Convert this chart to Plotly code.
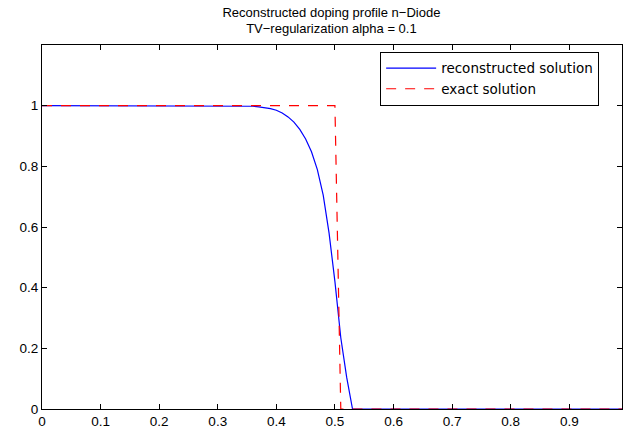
import plotly.graph_objects as go

# Reconstructed solution
x_rec = [0.0, 0.30, 0.34, 0.35, 0.36, 0.37, 0.38, 0.39, 0.40, 0.41, 0.42, 0.43, 0.44, 0.45,
         0.46, 0.47, 0.48, 0.49, 0.50, 0.51, 0.52, 0.53, 0.60, 0.70, 0.80, 0.90, 0.99]
y_rec = [1.0, 1.0, 1.0, 0.999, 0.998, 0.996, 0.994, 0.990, 0.985, 0.976, 0.963, 0.946, 0.922, 0.890,
         0.848, 0.789, 0.705, 0.580, 0.42, 0.235, 0.105, 0.0, 0.0, 0.0, 0.0, 0.0, 0.0]

# Exact solution (step)
x_exact = [0.0, 0.50, 0.51, 0.99]
y_exact = [1.0, 1.0, 0.0, 0.0]

x_ticks = [0, 0.1, 0.2, 0.3, 0.4, 0.5, 0.6, 0.7, 0.8, 0.9]
x_ticklabels = ["0", "0.1", "0.2", "0.3", "0.4", "0.5", "0.6", "0.7", "0.8", "0.9"]
y_ticks = [0, 0.2, 0.4, 0.6, 0.8, 1]
y_ticklabels = ["0", "0.2", "0.4", "0.6", "0.8", "1"]

FONT = "Liberation Sans, Arial, Helvetica, sans-serif"
LEGFONT = "DejaVu Sans, Liberation Sans, sans-serif"

fig = go.Figure()
fig.add_trace(go.Scatter(x=x_rec, y=y_rec, mode="lines", name="reconstructed solution",
                         line=dict(color="#0000ff", width=1.2)))
fig.add_trace(go.Scatter(x=x_exact, y=y_exact, mode="lines", name="exact solution",
                         line=dict(color="#ff0000", width=1.2, dash="10px,9px")))

axis_common = dict(showgrid=False, zeroline=False, showline=True, linecolor="black",
                   linewidth=1, mirror="ticks", ticks="inside", ticklen=5,
                   tickcolor="black", tickfont=dict(family=FONT, size=13.5, color="black"))

fig.update_layout(
    width=623, height=429,
    margin=dict(l=42, r=1, t=45, b=20),
    paper_bgcolor="white", plot_bgcolor="white",
    title=dict(text="Reconstructed doping profile n\u2212Diode<br>TV\u2212regularization alpha = 0.1",
               x=0.532, xanchor="center", y=0.9615, yanchor="middle",
               font=dict(family=FONT, size=13, color="black")),
    xaxis=dict(range=[0, 0.99], tickvals=x_ticks, ticktext=x_ticklabels, **axis_common),
    yaxis=dict(range=[0, 1.2], tickvals=y_ticks, ticktext=y_ticklabels, **axis_common),
    legend=dict(x=0.583, y=0.981, xanchor="left", yanchor="top",
                bordercolor="black", borderwidth=1, bgcolor="white",
                font=dict(family=LEGFONT, size=13.5, color="black"),
                tracegroupgap=0, itemwidth=50),
    showlegend=True,
)

fig.write_html("out.html")
